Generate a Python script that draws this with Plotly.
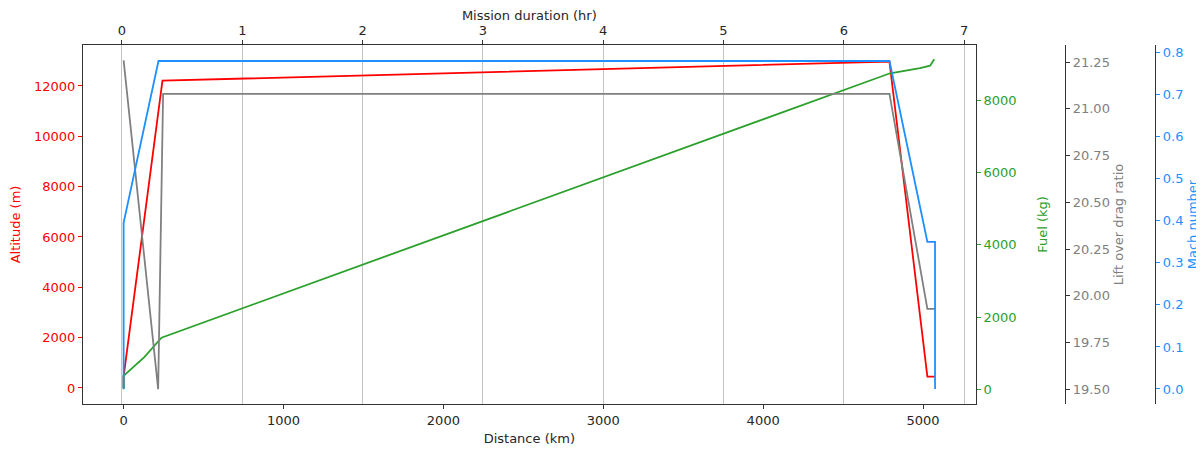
import plotly.graph_objects as go

# ---- data ----
alt_dist_km = [0, 0, 243, 4790, 5027, 5075]
altitude_m = [0, 450, 12210, 12970, 450, 450]

fuel_dist_km = [0, 0, 131, 237, 4794, 4981, 5044, 5070]
fuel_kg = [0, 370, 900, 1430, 8750, 8890, 8960, 9140]

ld_dist_km = [0, 216, 247, 4790, 5027, 5075]
lift_drag = [21.26, 19.5, 21.08, 21.08, 19.93, 19.93]

mach_dist_km = [0, 0, 218, 4790, 5027, 5075, 5075]
mach = [0, 0.395, 0.78, 0.78, 0.35, 0.35, 0]

duration_hr = [0.0, 6.75]

RED = "#ff0000"
GREEN = "#2ca02c"
GRAY = "#808080"
BLUE = "#1e90ff"
SPINE = "#333333"
FONT = "DejaVu Sans"
FS = 13

fig = go.Figure()
fig.add_trace(go.Scatter(x=duration_hr, y=[0, 0], xaxis="x2", yaxis="y",
                         mode="lines", line=dict(width=0, color="rgba(0,0,0,0)"),
                         hoverinfo="skip", showlegend=False))
fig.add_trace(go.Scatter(x=alt_dist_km, y=altitude_m, mode="lines",
                         line=dict(color=RED, width=1.8), name="Altitude", yaxis="y"))
fig.add_trace(go.Scatter(x=fuel_dist_km, y=fuel_kg, mode="lines",
                         line=dict(color=GREEN, width=1.8), name="Fuel", yaxis="y2"))
fig.add_trace(go.Scatter(x=ld_dist_km, y=lift_drag, mode="lines",
                         line=dict(color=GRAY, width=1.8), name="L/D", yaxis="y3"))
fig.add_trace(go.Scatter(x=mach_dist_km, y=mach, mode="lines",
                         line=dict(color=BLUE, width=1.8), name="Mach", yaxis="y4"))

dom = [0, 0.8327]
common_tick = dict(ticks="outside", ticklen=4, tickwidth=1.2, showgrid=False,
                   zeroline=False, showline=True, linecolor=SPINE, linewidth=1.3,
                   automargin=False)

# the page body adds an 8 px offset, so the figure is 8 px smaller and margins shifted
fig.update_layout(
    width=1196, height=442,
    margin=dict(l=75, r=49, t=37, b=46),
    paper_bgcolor="white", plot_bgcolor="white",
    showlegend=False,
    font=dict(family=FONT, size=FS, color="#262626"),
    xaxis=dict(domain=dom, range=[-254, 5329], dtick=1000, anchor="y", tickformat="d",
               title=dict(text="Distance (km)", standoff=7, font=dict(size=FS)),
               tickcolor=SPINE, tickfont=dict(color="#262626", size=FS),
               **common_tick),
    xaxis2=dict(domain=dom, range=[-0.324, 7.096], dtick=1, overlaying="x", side="top",
                anchor="y", ticks="outside", ticklen=4, tickwidth=1.2, tickcolor=SPINE,
                showline=True, linecolor=SPINE, linewidth=1.3, zeroline=False,
                showgrid=True, gridcolor="#c4c4c4", gridwidth=1, automargin=False,
                title=dict(text="Mission duration (hr)", standoff=0, font=dict(size=FS)),
                tickfont=dict(color="#262626", size=FS)),
    yaxis=dict(range=[-636, 13628], dtick=2000, anchor="x", side="left", tickformat="d",
               title=dict(text="Altitude (m)", standoff=11, font=dict(color=RED, size=FS)),
               tickcolor=RED, tickfont=dict(color=RED, size=FS), **common_tick),
    yaxis2=dict(range=[-407, 9532], dtick=2000, overlaying="y", anchor="x", side="right",
                tickformat="d",
                title=dict(text="Fuel (kg)", standoff=22, font=dict(color=GREEN, size=FS)),
                tickcolor=GREEN, tickfont=dict(color=GREEN, size=FS), **common_tick),
    yaxis3=dict(range=[19.421, 21.342], dtick=0.25, tickformat=".2f", overlaying="y",
                anchor="free", position=0.916, side="right",
                title=dict(text="Lift over drag ratio", standoff=4, font=dict(color=GRAY, size=FS)),
                tickcolor=SPINE, tickfont=dict(color=GRAY, size=FS), **common_tick),
    yaxis4=dict(range=[-0.0357, 0.818], dtick=0.1, tickformat=".1f", overlaying="y",
                anchor="free", position=1.0, side="right",
                title=dict(text="Mach number", standoff=5, font=dict(color=BLUE, size=FS)),
                tickcolor=BLUE, tickfont=dict(color=BLUE, size=FS), **common_tick),
)

fig.write_html("out.html")
